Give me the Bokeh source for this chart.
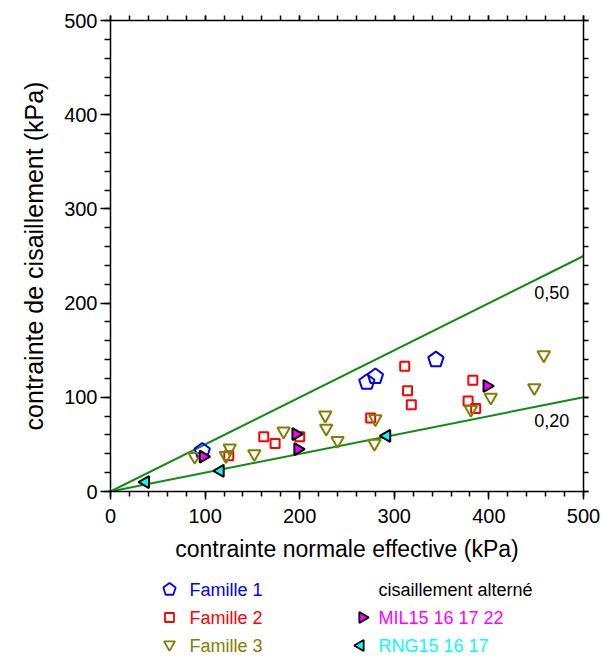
import math
from bokeh.plotting import figure
from bokeh.layouts import column
from bokeh.models import (Range1d, LinearAxis, SingleIntervalTicker, Label, Ngon, ColumnDataSource)
from bokeh.core.properties import value
from bokeh.embed import file_html
from bokeh.resources import INLINE

FONT = "Liberation Sans"

# ---------------- data ----------------
famille1_x = [97, 271, 280, 344]
famille1_y = [43, 116, 122, 140]

famille2_x = [125, 162, 174, 200, 275, 311, 314, 318, 383, 378, 386]
famille2_y = [38, 58, 51, 58, 78, 133, 107, 92, 118, 96, 88]

famille3_x = [89, 122, 126, 152, 183, 227, 228, 240, 280, 279, 381, 402, 448, 458]
famille3_y = [37, 38, 46, 40, 64, 81, 67, 54, 77, 51, 87, 100, 110, 145]

mil_x = [98, 196, 198, 398]
mil_y = [37, 61, 45, 112]

rng_x = [37, 116, 292]
rng_y = [10, 22, 59]

slopes = [0.50, 0.20]
slope_labels = ["0,50", "0,20"]
line_x = [0, 500]

tick_interval = 100
tick_values = [0, 100, 200, 300, 400, 500]

legend_left_labels = ["Famille 1", "Famille 2", "Famille 3"]
legend_left_colors = ["#0000FF", "#FF0000", "#808000"]
legend_right_labels = ["cisaillement alterné", "MIL15 16 17 22", "RNG15 16 17"]
legend_right_colors = ["black", "#FF00FF", "#00FFFF"]

MAIN_H = 571
LEG_H = 658 - MAIN_H
PENTAGON_ANGLE = 0.0

# ---------------- main figure ----------------
p = figure(width=602, height=MAIN_H, x_range=Range1d(0, 500), y_range=Range1d(0, 500),
           output_backend="svg", toolbar_location=None,
           min_border_left=110, min_border_right=19, min_border_top=20,
           min_border_bottom=MAIN_H - 491)
p.xgrid.grid_line_color = None
p.ygrid.grid_line_color = None
p.outline_line_color = None


def style_axis(ax, major_out, minor_out, labels=True):
    ax.ticker = SingleIntervalTicker(interval=tick_interval, num_minor_ticks=5)
    ax.axis_line_width = 1.5
    ax.axis_line_color = "black"
    ax.major_tick_line_width = 1.5
    ax.minor_tick_line_width = 1.5
    ax.major_tick_line_color = "black"
    ax.minor_tick_line_color = "black"
    ax.major_tick_in = 0
    ax.minor_tick_in = 0
    ax.major_tick_out = major_out
    ax.minor_tick_out = minor_out
    if labels:
        ax.major_label_text_font = FONT
        ax.major_label_text_font_size = "20px"
        ax.major_label_text_color = "black"
        ax.axis_label_text_font = FONT
        ax.axis_label_text_font_size = "23px"
        ax.axis_label_text_font_style = "normal"
        ax.axis_label_text_color = "black"
    else:
        ax.major_label_overrides = {v: "" for v in tick_values}
        ax.major_label_standoff = 0


xax = p.xaxis[0]
style_axis(xax, 8, 5)
xax.axis_label = "contrainte normale effective (kPa)"
xax.major_label_standoff = 9
xax.axis_label_standoff = 10

yax = p.yaxis[0]
style_axis(yax, 10, 6)
yax.axis_label = "contrainte de cisaillement (kPa)"
yax.axis_label_text_font_size = "25px"
yax.major_label_standoff = 3
yax.axis_label_standoff = 13

top = LinearAxis()
style_axis(top, 5, 5, labels=False)
p.add_layout(top, "above")
right = LinearAxis()
style_axis(right, 5, 5, labels=False)
p.add_layout(right, "right")

# ---------------- lines ----------------
for s in slopes:
    p.line(x=line_x, y=[s * xv for xv in line_x], line_color="#108A10", line_width=2)

p.add_layout(Label(x=448, y=211, text=slope_labels[0], text_baseline="middle",
                   text_font=FONT, text_font_size="18px", text_color="black"))
p.add_layout(Label(x=448, y=75, text=slope_labels[1], text_baseline="middle",
                   text_font=FONT, text_font_size="18px", text_color="black"))

# ---------------- markers ----------------
src1 = ColumnDataSource(dict(x=famille1_x, y=famille1_y))
p.add_glyph(src1, Ngon(x="x", y="y", radius=8.5, n=5, angle=PENTAGON_ANGLE,
                       line_color="#0000FF", fill_color=None, line_width=2))
p.scatter(famille2_x, famille2_y, marker="square", size=9, line_color="#FF0000",
          fill_color=None, line_width=2)
p.scatter(famille3_x, famille3_y, marker="inverted_triangle", size=12.5,
          line_color="#808000", fill_color=None, line_width=2)
p.scatter(mil_x, mil_y, marker="triangle", angle=-math.pi / 2, size=12,
          line_color="black", fill_color="#FF00FF", line_width=2)
p.scatter(rng_x, rng_y, marker="triangle", angle=math.pi / 2, size=12,
          line_color="black", fill_color="#00FFFF", line_width=2)

# ---------------- legend figure (page-pixel coordinates; frame aligned 110..583) ----------------
leg = figure(width=602, height=LEG_H, x_range=Range1d(110, 583), y_range=Range1d(LEG_H, 0),
             output_backend="svg", toolbar_location=None,
             min_border_left=110, min_border_right=19, min_border_top=0, min_border_bottom=0)
leg.axis.visible = False
leg.xgrid.grid_line_color = None
leg.ygrid.grid_line_color = None
leg.outline_line_color = None

row_y = [589 - MAIN_H, 617 - MAIN_H, 645 - MAIN_H]
left_marker_x = 169
left_text_x = 189
right_marker_x = 362
right_text_x = 378

leg.add_glyph(ColumnDataSource(dict(x=[left_marker_x], y=[row_y[0]])),
              Ngon(x="x", y="y", radius=6.5, n=5, angle=PENTAGON_ANGLE,
                   line_color="#0000FF", fill_color=None, line_width=1.8))
leg.scatter([left_marker_x], [row_y[1]], marker="square", size=9, line_color="#FF0000",
            fill_color=None, line_width=1.8)
leg.scatter([left_marker_x], [row_y[2] - 1], marker="inverted_triangle", size=11,
            line_color="#808000", fill_color=None, line_width=1.8)
leg.scatter([right_marker_x], [row_y[1]], marker="triangle", angle=-math.pi / 2, size=11,
            line_color="black", fill_color="#FF00FF", line_width=1.8)
leg.scatter([right_marker_x - 2], [row_y[2]], marker="triangle", angle=math.pi / 2, size=11,
            line_color="black", fill_color="#00FFFF", line_width=1.8)

leg.text(x=[left_text_x] * 3, y=row_y, text=legend_left_labels, text_color=legend_left_colors,
         text_font=value(FONT), text_font_size="18px", text_baseline="middle")
leg.text(x=[right_text_x] * 3, y=row_y, text=legend_right_labels, text_color=legend_right_colors,
         text_font=value(FONT), text_font_size="18px", text_baseline="middle")

layout = column(p, leg, spacing=0)
open("out.html", "w").write(file_html(layout, INLINE))
